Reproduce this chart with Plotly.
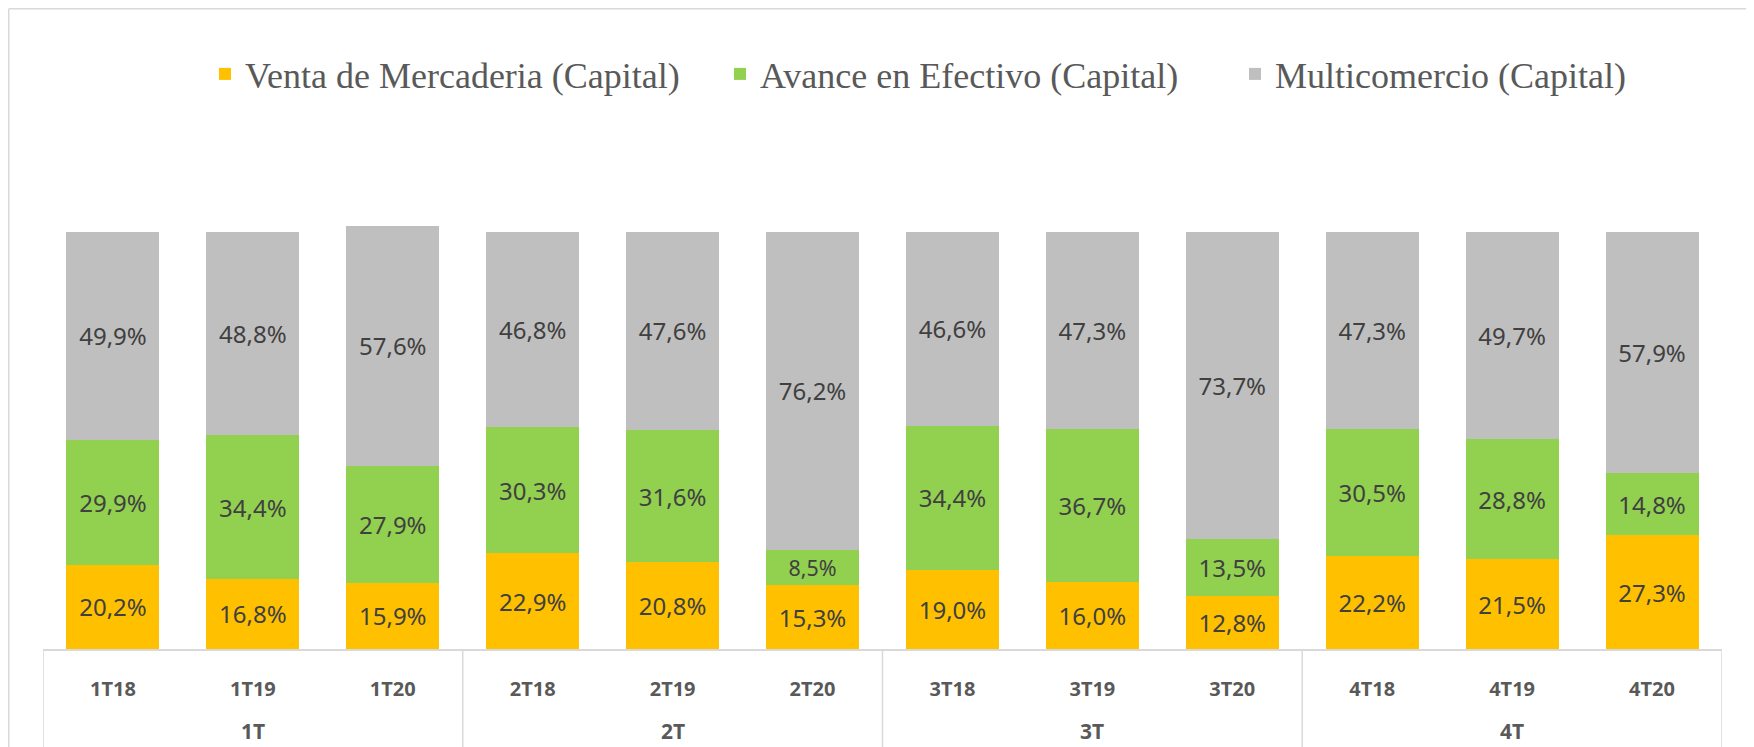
import plotly.graph_objects as go

groups = ["1T", "1T", "1T", "2T", "2T", "2T", "3T", "3T", "3T", "4T", "4T", "4T"]
periods = ["1T18", "1T19", "1T20", "2T18", "2T19", "2T20",
           "3T18", "3T19", "3T20", "4T18", "4T19", "4T20"]
venta = [20.2, 16.8, 15.9, 22.9, 20.8, 15.3, 19.0, 16.0, 12.8, 22.2, 21.5, 27.3]
avance = [29.9, 34.4, 27.9, 30.3, 31.6, 8.5, 34.4, 36.7, 13.5, 30.5, 28.8, 14.8]
multi = [49.9, 48.8, 57.6, 46.8, 47.6, 76.2, 46.6, 47.3, 73.7, 47.3, 49.7, 57.9]

series = [
    ("Venta de Mercaderia (Capital)", venta, "#FFC000"),
    ("Avance en Efectivo (Capital)", avance, "#92D050"),
    ("Multicomercio (Capital)", multi, "#BFBFBF"),
]

# group names, centre positions and boundaries derived from the lists above
group_names = []
for g in groups:
    if g not in group_names:
        group_names.append(g)
group_centers = [sum(i for i, g in enumerate(groups) if g == n) / groups.count(n)
                 for n in group_names]
boundaries = [-0.5] + [i - 0.5 for i in range(1, len(groups)) if groups[i] != groups[i - 1]] \
             + [len(groups) - 0.5]

W, H = 1754, 747
OFF = 8  # page body margin
PLOT_L, PLOT_R, PLOT_B, PLOT_T = 43, 1722, 649, 148
ML = PLOT_L - OFF
MT = PLOT_T - OFF
MR = W - (PLOT_R - OFF)
MB = H - (PLOT_B - OFF)
PW = W - ML - MR
PH = H - MT - MB

fig = go.Figure()
for name, vals, color in series:
    fig.add_trace(go.Bar(
        name=name,
        x=periods,
        y=vals,
        marker=dict(color=color, line=dict(width=0)),
        texttemplate="%{y:.1f}%",
        textposition="inside",
        insidetextanchor="middle",
        textangle=0,
        textfont=dict(family="Noto Sans", size=24, color="#404040"),
        cliponaxis=False,
    ))

def px_x(p):
    return (p - OFF - ML) / PW

def px_y(p):
    return (H - MB - (p - OFF)) / PH

tickfont = dict(family="Noto Sans", size=20, color="#595959", weight="bold")
GRID = "#D9D9D9"

shapes = [
    dict(type="line", xref="paper", yref="paper",
         x0=px_x(8.75), x1=px_x(W + 20), y0=px_y(8.75), y1=px_y(8.75),
         line=dict(color=GRID, width=1.5)),
    dict(type="line", xref="paper", yref="paper",
         x0=px_x(8.75), x1=px_x(8.75), y0=px_y(8.75), y1=px_y(H + 20),
         line=dict(color=GRID, width=1.5)),
]
for b in boundaries:
    shapes.append(dict(type="line", xref="x", yref="paper",
                       x0=b, x1=b, y0=0, y1=px_y(H + 20),
                       line=dict(color=GRID, width=1.5)))

annotations = [
    dict(x=c, xref="x", y=px_y(747), yref="paper", text=n, showarrow=False,
         xanchor="center", yanchor="bottom",
         font=dict(family="Noto Sans", size=21, color="#595959", weight="bold"))
    for n, c in zip(group_names, group_centers)
]

fig.update_layout(
    width=W, height=H,
    barmode="stack",
    bargap=0.335,
    separators=",.",
    paper_bgcolor="white",
    plot_bgcolor="white",
    margin=dict(l=ML, r=MR, t=MT, b=MB, autoexpand=False),
    showlegend=True,
    legend=dict(
        orientation="h",
        x=px_x(205), xanchor="left",
        y=px_y(74), yanchor="middle",
        font=dict(family="Liberation Serif", size=36, color="#595959"),
        entrywidth=470,
        bgcolor="rgba(0,0,0,0)",
        traceorder="normal",
    ),
    xaxis=dict(
        type="category",
        showline=True, linecolor=GRID, linewidth=1.5,
        tickfont=tickfont,
        showgrid=False,
        ticks="",
        ticklabelstandoff=21,
        range=[-0.5, len(periods) - 0.5],
    ),
    yaxis=dict(
        range=[0, 120],
        visible=False,
        showgrid=False,
        zeroline=False,
    ),
    shapes=shapes,
    annotations=annotations,
)

fig.write_html("out.html")
